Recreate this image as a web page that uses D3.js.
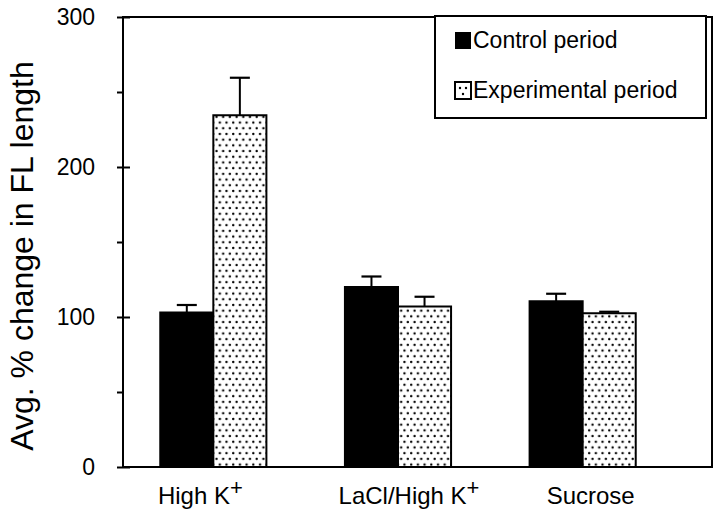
<!DOCTYPE html>
<html>
<head>
<meta charset="utf-8">
<script src="https://cdn.jsdelivr.net/npm/d3@7"></script>
<style>
  html, body { margin: 0; padding: 0; background: #fff; }
  svg { display: block; font-family: "Liberation Sans", Arial, Helvetica, sans-serif; }
</style>
</head>
<body>
<svg id="chart" width="720" height="520"></svg>
<script>
const categories = ["High K", "LaCl/High K", "Sucrose"];
const seriesNames = ["Control period", "Experimental period"];
const controlValues = [103, 120, 110.5];
const controlErrors = [5, 7, 5];
const experimentalValues = [234.5, 107, 102.5];
const experimentalErrors = [25, 6.5, 1];
const yTicks = [0, 100, 200, 300];
const yMinorTicks = [50, 150, 250];

const svg = d3.select("#chart");

// pattern for dotted bars
const defs = svg.append("defs");
const pw = 13.4, ph = 11.4;
const pat = defs.append("pattern")
  .attr("id", "dots").attr("patternUnits", "userSpaceOnUse")
  .attr("width", pw).attr("height", ph);
pat.append("rect").attr("width", pw).attr("height", ph).attr("fill", "#fff");
[[1.7, 2.8], [8.4, 2.8], [5.05, 8.5], [11.75, 8.5]].forEach(p =>
  pat.append("circle").attr("cx", p[0]).attr("cy", p[1]).attr("r", 1.2).attr("fill", "#000"));

const frame = { left: 123, right: 712, top: 17, bottom: 467 };

const y = d3.scaleLinear().domain([0, 300]).range([frame.bottom, frame.top]);
const x0 = d3.scaleBand().domain(categories).range([121, 675]).padding(0);
const x1 = d3.scaleBand().domain(seriesNames).range([0, x0.bandwidth()])
  .paddingInner(0).paddingOuter(0.74);

const data = categories.map((c, i) => ({
  cat: c,
  bars: [
    { s: seriesNames[0], v: controlValues[i], e: controlErrors[i] },
    { s: seriesNames[1], v: experimentalValues[i], e: experimentalErrors[i] }
  ]
}));

const groups = svg.append("g").selectAll("g").data(data).join("g")
  .attr("transform", d => `translate(${x0(d.cat)},0)`);

// error bars
groups.selectAll("g.err").data(d => d.bars).join("g").attr("class", "err")
  .each(function(d) {
    const g = d3.select(this);
    const cx = x1(d.s) + x1.bandwidth() / 2;
    g.append("line").attr("x1", cx).attr("x2", cx)
      .attr("y1", y(d.v)).attr("y2", y(d.v + d.e))
      .attr("stroke", "#000").attr("stroke-width", 2);
    g.append("line").attr("x1", cx - 10).attr("x2", cx + 10)
      .attr("y1", y(d.v + d.e)).attr("y2", y(d.v + d.e))
      .attr("stroke", "#000").attr("stroke-width", 2.2);
  });

groups.selectAll("rect").data(d => d.bars).join("rect")
  .attr("x", d => x1(d.s))
  .attr("width", x1.bandwidth())
  .attr("y", d => y(d.v))
  .attr("height", d => y(0) - y(d.v))
  .attr("fill", d => d.s === seriesNames[0] ? "#000" : "url(#dots)")
  .attr("stroke", "#000").attr("stroke-width", 2);

// frame
svg.append("rect")
  .attr("x", frame.left).attr("y", frame.top)
  .attr("width", frame.right - frame.left).attr("height", frame.bottom - frame.top)
  .attr("fill", "none").attr("stroke", "#000").attr("stroke-width", 2);

// y axis
const yAxis = d3.axisLeft(y).tickValues(yTicks).tickSizeInner(6).tickSizeOuter(0).tickPadding(22);
const ya = svg.append("g").attr("transform", `translate(${frame.left},0)`).call(yAxis);
ya.select(".domain").remove();
ya.selectAll(".tick line").attr("stroke", "#000").attr("stroke-width", 2).attr("x1", 7);
ya.selectAll(".tick text").attr("font-size", 23).attr("fill", "#000")
  .attr("font-family", "Liberation Sans, Arial, sans-serif");

const yMinor = d3.axisLeft(y).tickValues(yMinorTicks).tickSizeInner(6).tickSizeOuter(0).tickFormat("");
const ym = svg.append("g").attr("transform", `translate(${frame.left},0)`).call(yMinor);
ym.select(".domain").remove();
ym.selectAll(".tick line").attr("stroke", "#000").attr("stroke-width", 2);

// x labels (small hand offsets as in the original figure)
const labelShift = [-13, 11, 8];
const xl = svg.append("g").selectAll("text").data(categories).join("text")
  .attr("x", (d, i) => x0(d) + x0.bandwidth() / 2 + labelShift[i])
  .attr("y", 504)
  .attr("text-anchor", "middle")
  .attr("font-size", 24)
  .attr("fill", "#000");
xl.append("tspan").text(d => d);
xl.filter(d => d !== "Sucrose").append("tspan")
  .attr("dy", -9).attr("font-size", 22).text("+");

// y title
svg.append("text")
  .attr("transform", `translate(33,${(frame.top + frame.bottom) / 2 + 14}) rotate(-90)`)
  .attr("text-anchor", "middle")
  .attr("font-size", 32)
  .attr("fill", "#000")
  .text("Avg. % change in FL length");

// legend
const lg = svg.append("g");
lg.append("rect").attr("x", 435).attr("y", 16).attr("width", 271).attr("height", 102)
  .attr("fill", "#fff").attr("stroke", "#000").attr("stroke-width", 2);
const items = lg.selectAll("g.item").data(seriesNames).join("g").attr("class", "item")
  .attr("transform", (d, i) => `translate(455,${32 + i * 50})`);
items.append("rect").attr("width", 16).attr("height", 17)
  .attr("fill", (d, i) => i === 0 ? "#000" : "#fff")
  .attr("stroke", "#000").attr("stroke-width", (d, i) => i === 0 ? 0 : 2);
items.filter((d, i) => i === 1).each(function() {
  const g = d3.select(this);
  [[5, 6], [11, 6], [8, 12]].forEach(p => g.append("circle").attr("cx", p[0]).attr("cy", p[1]).attr("r", 1.2).attr("fill", "#000"));
});
items.append("text").attr("x", 18).attr("y", 16)
  .attr("font-size", 23).attr("fill", "#000").text(d => d);
</script>
</body>
</html>
